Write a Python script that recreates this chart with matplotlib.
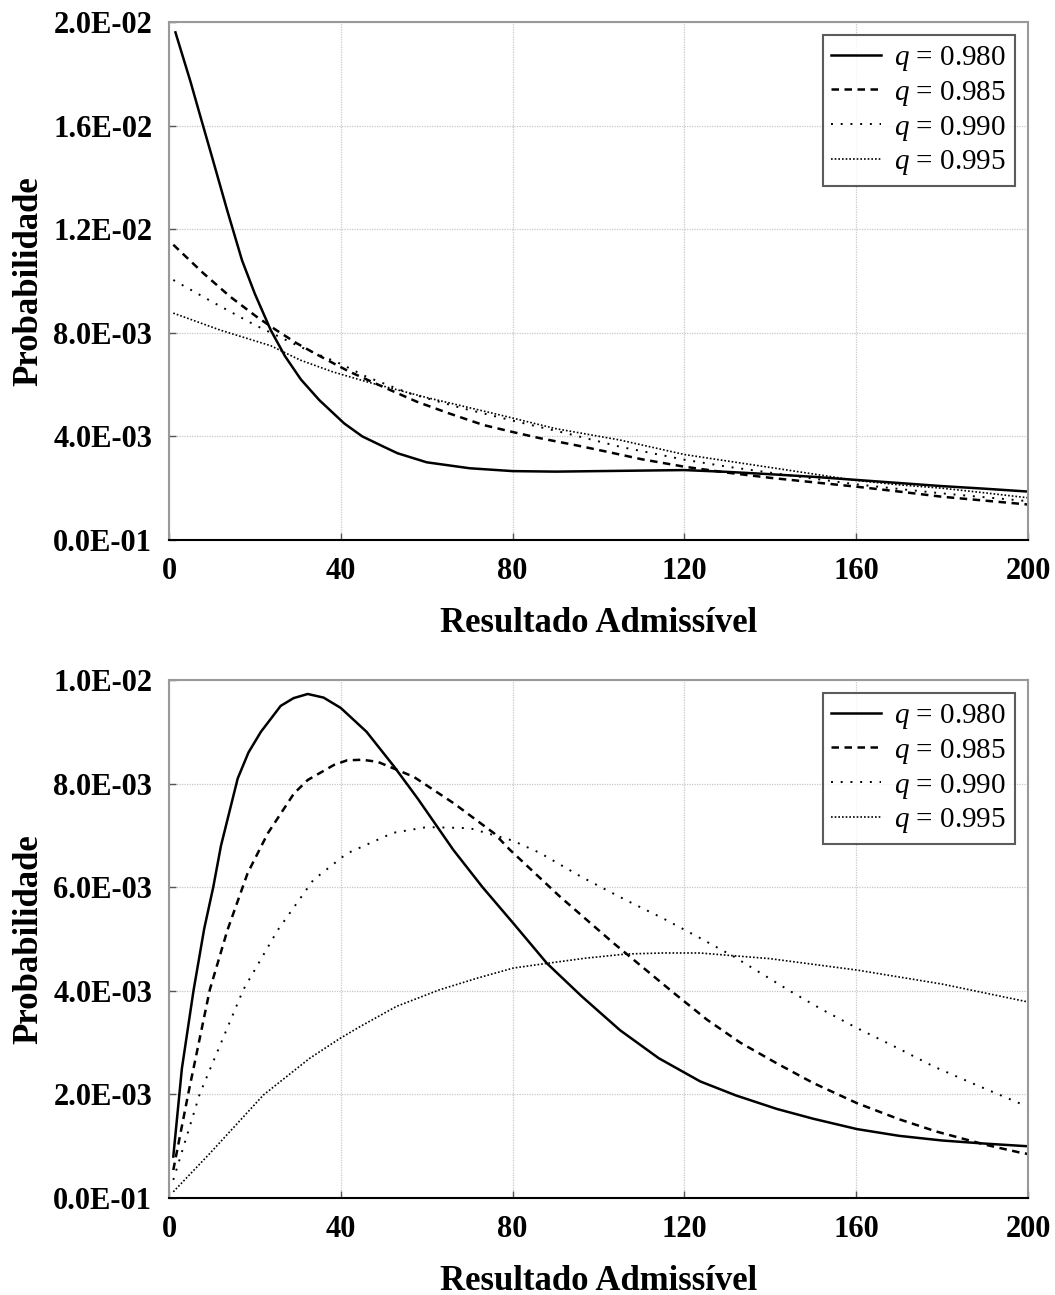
import matplotlib
matplotlib.use("Agg")
import matplotlib.pyplot as plt
from matplotlib.ticker import FixedLocator, FixedFormatter

plt.rcParams['font.family'] = ['Liberation Serif', 'DejaVu Serif']
plt.rcParams['mathtext.fontset'] = 'custom'
plt.rcParams['mathtext.rm'] = 'Liberation Serif'
plt.rcParams['mathtext.it'] = 'Liberation Serif:italic'

# ---------------- data: top panel ----------------
top_x_980 = [1.5, 5, 7.4, 10, 13.6, 17, 20, 23.7, 27, 30.7, 35, 40.8, 45, 50, 53.2, 60, 70, 80, 90, 100, 110, 120, 130, 140, 150, 160, 170, 180, 190, 200]
top_y_980 = [0.0196, 0.0177, 0.0163, 0.0148, 0.0127, 0.0108, 0.0095, 0.0081, 0.0071, 0.0062, 0.0054, 0.0045, 0.0040, 0.0036, 0.00335, 0.0030, 0.00277, 0.00266, 0.00264, 0.00266, 0.00268, 0.0027, 0.00263, 0.00254, 0.00244, 0.00232, 0.0022, 0.00208, 0.00198, 0.00187]

top_x_985 = [1, 8, 14.2, 20.4, 25, 29.7, 34, 39, 42, 50, 57.7, 65, 73.2, 80, 86.4, 95, 101.9, 110, 120, 130, 140, 150, 160, 170, 180, 190, 200]
top_y_985 = [0.0114, 0.0103, 0.0094, 0.00862, 0.0081, 0.0076, 0.0072, 0.00676, 0.00650, 0.0059, 0.00534, 0.0049, 0.00444, 0.00417, 0.00393, 0.00365, 0.00341, 0.00312, 0.00283, 0.0026, 0.0024, 0.00223, 0.00206, 0.00187, 0.00167, 0.00152, 0.00137]

top_x_990 = [1, 10, 20, 30.5, 40, 46, 56, 68, 81, 93, 105, 120, 130, 140, 150, 160, 170, 180, 190, 200]
top_y_990 = [0.01004, 0.0092, 0.0083, 0.00746, 0.0068, 0.0063, 0.00566, 0.0051, 0.00457, 0.0041, 0.0036, 0.0031, 0.00283, 0.0026, 0.00237, 0.00215, 0.00197, 0.0018, 0.00165, 0.0015]

top_x_995 = [1, 12, 23.7, 30.5, 38, 46, 60, 77, 90, 105, 120, 130, 140, 150, 160, 170, 180, 190, 200]
top_y_995 = [0.00876, 0.0081, 0.0075, 0.00695, 0.0065, 0.00611, 0.0055, 0.00483, 0.0043, 0.00386, 0.0033, 0.00305, 0.0028, 0.00255, 0.0023, 0.00213, 0.0020, 0.00182, 0.00163]

# ---------------- data: bottom panel ----------------
bot_x_980 = [1, 3, 5.7, 8.2, 10.3, 12.1, 16, 18.5, 21.4, 26, 29, 32.3, 36, 40, 46, 52.4, 58, 66.2, 73, 80.2, 88, 96, 105, 114, 123.7, 132, 141.5, 150, 160.2, 170, 180, 190, 199.7]
bot_y_980 = [0.0008, 0.0025, 0.0040, 0.0052, 0.0060, 0.0068, 0.0081, 0.0086, 0.0090, 0.0095, 0.00965, 0.00973, 0.00966, 0.00946, 0.0090, 0.00833, 0.0077, 0.00672, 0.0060, 0.0053, 0.00453, 0.0039, 0.00324, 0.0027, 0.00225, 0.00198, 0.00172, 0.00153, 0.00133, 0.0012, 0.00111, 0.00105, 0.00100]

bot_x_985 = [1, 4.5, 9.5, 13.6, 18.3, 23, 29.1, 32.3, 38.4, 41.5, 45, 48.6, 57, 66.3, 75.7, 79.4, 91, 103.5, 117.5, 125.3, 133, 141.5, 150, 160.2, 170, 178.8, 190, 198, 200]
bot_y_985 = [0.00054, 0.00202, 0.00402, 0.00517, 0.00627, 0.00704, 0.00781, 0.00807, 0.00836, 0.00845, 0.00846, 0.00842, 0.00813, 0.00762, 0.00704, 0.00672, 0.00582, 0.00492, 0.00396, 0.00344, 0.00300, 0.0026, 0.00222, 0.00183, 0.00152, 0.00128, 0.00103, 0.00088, 0.00085]

bot_x_990 = [1, 7.2, 17.3, 25.3, 33.6, 41.4, 52.2, 60, 70, 80, 86.4, 96, 106.4, 115, 123.6, 131.5, 144.7, 152, 160.2, 170, 178, 188, 198, 200]
bot_y_990 = [0.00035, 0.00202, 0.00402, 0.00517, 0.00614, 0.00665, 0.00705, 0.00716, 0.00714, 0.0069, 0.00666, 0.0062, 0.00575, 0.0054, 0.00502, 0.00466, 0.00399, 0.00364, 0.00328, 0.00288, 0.00254, 0.00218, 0.00183, 0.00178]

bot_x_995 = [1, 9.5, 22, 32.8, 39.8, 44.5, 53, 63, 72, 80.2, 88, 97, 106.4, 115, 123.6, 140, 160.2, 180, 199.7]
bot_y_995 = [0.00012, 0.00086, 0.00199, 0.0027, 0.00308, 0.00331, 0.0037, 0.00402, 0.00425, 0.00444, 0.00453, 0.00463, 0.00471, 0.00473, 0.00473, 0.00462, 0.0044, 0.00413, 0.00379]

labels = [r'$q$ = 0.980', r'$q$ = 0.985', r'$q$ = 0.990', r'$q$ = 0.995']
x_ticks = [0, 40, 80, 120, 160, 200]
x_tick_labels = ['0', '40', '80', '120', '160', '200']
top_y_ticks = [0.0, 0.004, 0.008, 0.012, 0.016, 0.020]
top_y_tick_labels = ['0.0E-01', '4.0E-03', '8.0E-03', '1.2E-02', '1.6E-02', '2.0E-02']
bot_y_ticks = [0.0, 0.002, 0.004, 0.006, 0.008, 0.010]
bot_y_tick_labels = ['0.0E-01', '2.0E-03', '4.0E-03', '6.0E-03', '8.0E-03', '1.0E-02']

styles = [
    dict(color='black', lw=1.8, linestyle='-'),
    dict(color='black', lw=1.8, linestyle=(0, (3, 2.2))),
    dict(color='black', lw=1.4, linestyle=(0, (1, 4))),
    dict(color='black', lw=1.2, linestyle=(0, (1, 1.2))),
]

fig = plt.figure(figsize=(10.55, 12.95), dpi=100)
ax1 = fig.add_axes([169/1055, 1-540/1295, (1028-169)/1055, (540-22)/1295])
ax2 = fig.add_axes([169/1055, 1-1198/1295, (1028-169)/1055, (1198-680)/1295])

panels = [
    (ax1, [(top_x_980, top_y_980), (top_x_985, top_y_985), (top_x_990, top_y_990), (top_x_995, top_y_995)],
     top_y_ticks, top_y_tick_labels, 0.02),
    (ax2, [(bot_x_980, bot_y_980), (bot_x_985, bot_y_985), (bot_x_990, bot_y_990), (bot_x_995, bot_y_995)],
     bot_y_ticks, bot_y_tick_labels, 0.01),
]

for ax, series, yt, ytl, ymax in panels:
    for (xs, ys), st, lab in zip(series, styles, labels):
        ax.plot(xs, ys, label=lab, **st)
    ax.set_xlim(0, 200)
    ax.set_ylim(0, ymax)
    ax.xaxis.set_major_locator(FixedLocator(x_ticks))
    ax.xaxis.set_major_formatter(FixedFormatter(x_tick_labels))
    ax.yaxis.set_major_locator(FixedLocator(yt))
    ax.yaxis.set_major_formatter(FixedFormatter(ytl))
    ax.grid(True, color='#c8c8c8', linestyle=(0, (1, 1)), linewidth=0.9)
    ax.set_axisbelow(True)
    ax.tick_params(direction='in', length=5, width=1, color='#555555', labelsize=22, pad=12)
    for lbl in ax.get_xticklabels() + ax.get_yticklabels():
        lbl.set_fontweight('bold')
    for side in ['left', 'top', 'right']:
        ax.spines[side].set_color('#999999')
        ax.spines[side].set_linewidth(1.5)
    ax.spines['bottom'].set_color('black')
    ax.spines['bottom'].set_linewidth(1.5)
    ax.set_xlabel('Resultado Admissível', fontsize=25, fontweight='bold', labelpad=15)
    ax.set_ylabel('Probabilidade', fontsize=25, fontweight='bold', labelpad=6)
    leg = ax.legend(loc='upper right', fontsize=21, frameon=True, fancybox=False,
                    handlelength=1.7, handletextpad=0.45, labelspacing=0.2,
                    borderpad=0.3, borderaxespad=0.45)
    leg.get_frame().set_edgecolor('#333333')
    leg.get_frame().set_linewidth(1.5)

fig.savefig('out.png', dpi=100)
